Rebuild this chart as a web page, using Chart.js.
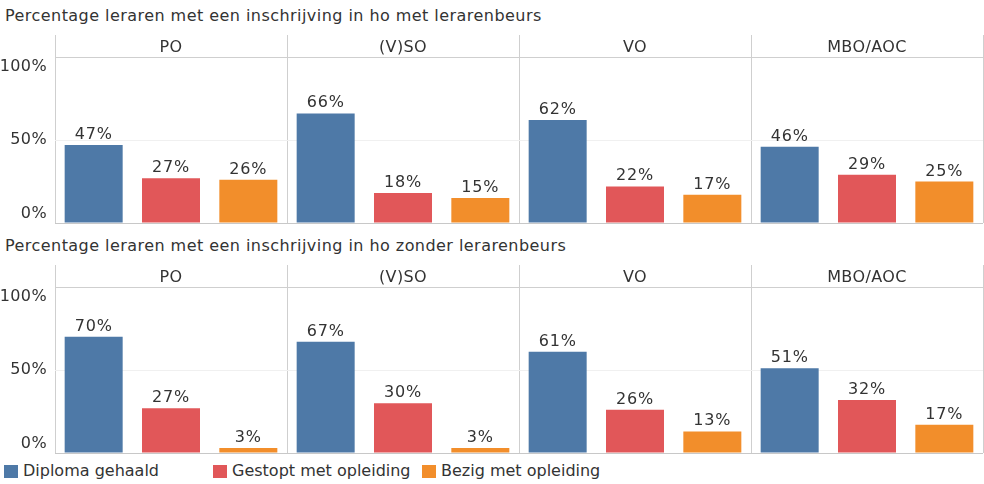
<!DOCTYPE html>
<html>
<head>
<meta charset="utf-8">
<script src="https://cdn.jsdelivr.net/npm/chart.js@4.4.1/dist/chart.umd.min.js"></script>
<style>
  html, body { margin: 0; padding: 0; background: #fff; }
  body { width: 984px; height: 484px; position: relative; overflow: hidden; font-family: 'DejaVu Sans', Verdana, sans-serif; color: #333; }
  .title { position: absolute; left: 5px; font-size: 16px; line-height: 18px; letter-spacing: 0.45px; white-space: nowrap; }
  .wrap { position: absolute; left: 0; width: 984px; height: 189px; }
  #legend { position: absolute; left: 0; top: 462px; height: 18px; width: 984px; font-size: 16px; }
  .li { position: absolute; top: 0; height: 18px; line-height: 18px; white-space: nowrap; }
  .sw { position: absolute; left: 0; top: 3px; width: 14px; height: 13px; }
  .lt { position: absolute; left: 19px; top: 0; }
</style>
</head>
<body>
<div class="title" id="t1" style="top:7px"></div>
<div class="wrap" style="top:35px"><canvas id="c1" width="984" height="189"></canvas></div>
<div class="title" id="t2" style="top:237px"></div>
<div class="wrap" style="top:265px"><canvas id="c2" width="984" height="189"></canvas></div>
<div id="legend"></div>
<script>
const categories = ['PO', '(V)SO', 'VO', 'MBO/AOC'];
const seriesNames = ['Diploma gehaald', 'Gestopt met opleiding', 'Bezig met opleiding'];
const seriesColors = ['#4e79a7', '#e15759', '#f28e2b'];
const panelTitles = [
  'Percentage leraren met een inschrijving in ho met lerarenbeurs',
  'Percentage leraren met een inschrijving in ho zonder lerarenbeurs'
];
const yTicks = [0, 50, 100];

// Panel 1: met lerarenbeurs
const metDiploma = [47, 66, 62, 46];
const metGestopt = [27, 18, 22, 29];
const metBezig   = [26, 15, 17, 25];
// Panel 2: zonder lerarenbeurs
const zonderDiploma = [70, 67, 61, 51];
const zonderGestopt = [27, 30, 26, 32];
const zonderBezig   = [3, 3, 13, 17];

const FONT = "'DejaVu Sans', Verdana, sans-serif";
const TEXT = '#333333';

document.getElementById('t1').textContent = panelTitles[0];
document.getElementById('t2').textContent = panelTitles[1];

const spacingPlugin = {
  id: 'spacing',
  beforeDraw(chart) { chart.ctx.letterSpacing = '0.4px'; }
};

const labelPlugin = {
  id: 'barLabels',
  afterDatasetsDraw(chart) {
    const ctx = chart.ctx;
    ctx.save();
    ctx.letterSpacing = '0.8px';
    ctx.font = '16px ' + FONT;
    ctx.fillStyle = TEXT;
    ctx.textAlign = 'center';
    ctx.textBaseline = 'alphabetic';
    chart.data.datasets.forEach((ds, di) => {
      const meta = chart.getDatasetMeta(di);
      meta.data.forEach((bar, i) => {
        ctx.fillText(ds.data[i] + '%', bar.x, bar.y - 6);
      });
    });
    ctx.restore();
  }
};

function makeChart(id, series) {
  return new Chart(document.getElementById(id), {
    type: 'bar',
    data: {
      labels: categories,
      datasets: series.map((vals, k) => ({
        label: seriesNames[k],
        data: vals,
        backgroundColor: seriesColors[k],
        borderWidth: 0,
        categoryPercentage: 1.0,
        barPercentage: 0.75
      }))
    },
    options: {
      responsive: false,
      animation: false,
      devicePixelRatio: 1,
      layout: { padding: { left: 0, right: 1, top: 0, bottom: 1 } },
      plugins: { legend: { display: false }, tooltip: { enabled: false }, title: { display: false } },
      scales: {
        x: {
          position: 'top',
          afterFit: s => { s.height = 22; s.paddingLeft = 0; s.paddingRight = 0; s.paddingTop = 0; s.paddingBottom = 0; },
          grid: { offset: true, color: '#cfcfcf', lineWidth: 1, tickLength: 22, drawTicks: true },
          border: { display: true, color: '#cfcfcf' },
          ticks: { font: { family: FONT, size: 16 }, color: TEXT, padding: -22, maxRotation: 0 }
        },
        y: {
          min: 0, max: 100,
          afterFit: s => { s.width = 55; s.paddingTop = 0; s.paddingBottom = 0; s.paddingLeft = 0; s.paddingRight = 0; },
          afterBuildTicks: s => { s.ticks = yTicks.map(v => ({ value: v })); },
          grid: {
            drawTicks: false,
            color: c => c.tick && c.tick.value === 0 ? '#c8c8c8' : (c.tick && c.tick.value === 100 ? '#cfcfcf' : '#f0f0f0')
          },
          border: { display: false },
          ticks: {
            padding: 8,
            font: { family: FONT, size: 16 },
            color: TEXT,
            callback: v => v === 0 ? ['0%', ''] : (v === 100 ? ['', '100%'] : v + '%')
          }
        }
      }
    },
    plugins: [spacingPlugin, labelPlugin]
  });
}

makeChart('c1', [metDiploma, metGestopt, metBezig]);
makeChart('c2', [zonderDiploma, zonderGestopt, zonderBezig]);

const legendPos = [4, 213, 422];
const lg = document.getElementById('legend');
seriesNames.forEach((n, k) => {
  const d = document.createElement('div');
  d.className = 'li';
  d.style.left = legendPos[k] + 'px';
  d.innerHTML = '<span class="sw" style="background:' + seriesColors[k] + '"></span><span class="lt"></span>';
  d.querySelector('.lt').textContent = n;
  lg.appendChild(d);
});
</script>
</body>
</html>
